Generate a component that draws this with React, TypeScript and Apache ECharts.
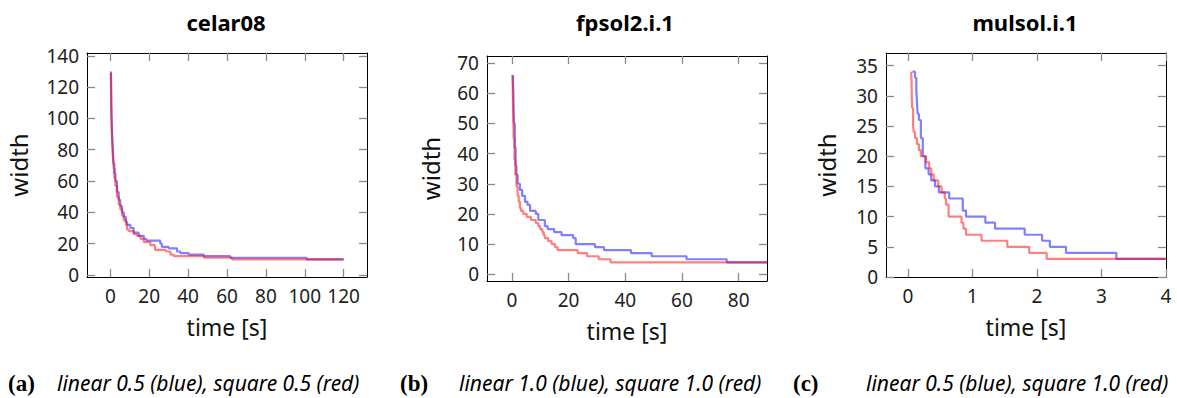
import React, { useEffect, useRef } from "react";
import * as echarts from "echarts";

const panelTitles = ["celar08", "fpsol2.i.1", "mulsol.i.1"];
const captionTags = ["(a)", "(b)", "(c)"];
const captionTexts = [
  "linear 0.5 (blue), square 0.5 (red)",
  "linear 1.0 (blue), square 1.0 (red)",
  "linear 0.5 (blue), square 1.0 (red)",
];
const xAxisName = "time [s]";
const yAxisName = "width";

const xTicks1 = [0, 20, 40, 60, 80, 100, 120];
const yTicks1 = [0, 20, 40, 60, 80, 100, 120, 140];
const xTicks2 = [0, 20, 40, 60, 80];
const yTicks2 = [0, 10, 20, 30, 40, 50, 60, 70];
const xTicks3 = [0, 1, 2, 3, 4];
const yTicks3 = [0, 5, 10, 15, 20, 25, 30, 35];

// [time, width]
const celarBlue = [
  [0.3, 130], [0.4, 120], [0.5, 108], [0.7, 98], [0.9, 90], [1.1, 84], [1.4, 77], [1.7, 71],
  [2.1, 65], [2.6, 60], [3.4, 53], [4.3, 48], [5.1, 44], [6.0, 40], [6.9, 37], [8.0, 34],
  [8.6, 32], [10.3, 30], [12.0, 27], [14.6, 25], [17.2, 23], [18.5, 22], [25.7, 20], [26.5, 18],
  [30.0, 17], [34.3, 15], [36.0, 14], [40.3, 13], [48.0, 12], [61.7, 11], [101.0, 10], [120.0, 10],
];
const celarRed = [
  [0.3, 129], [0.4, 116], [0.5, 104], [0.7, 94], [0.9, 87], [1.1, 81], [1.4, 74], [1.7, 68],
  [2.1, 62], [2.6, 57], [3.4, 50], [4.3, 45], [5.1, 42], [6.0, 38], [6.9, 35], [8.0, 32],
  [8.6, 29], [9.5, 28], [12.0, 26], [13.7, 25], [15.5, 23], [17.2, 21], [20.6, 19], [23.0, 16],
  [28.6, 15], [30.9, 13], [32.6, 12], [48.2, 11], [62.6, 10], [120.0, 10],
];
const fpsolBlue = [
  [0.3, 66], [0.5, 60], [0.7, 50], [1.0, 42], [1.3, 36], [1.6, 33], [2.0, 30], [2.8, 28],
  [3.6, 26], [4.6, 24], [5.5, 23], [6.4, 21], [8.4, 20], [9.3, 18], [11.6, 16], [12.6, 15],
  [14.9, 14], [17.5, 13], [21.6, 12], [22.5, 10], [29.3, 9], [32.5, 8], [42.0, 7], [49.3, 6],
  [61.6, 5], [75.8, 4], [90.0, 4],
];
const fpsolRed = [
  [0.2, 66], [0.4, 55], [0.6, 45], [0.9, 38], [1.2, 33], [1.6, 29], [2.0, 26], [2.4, 24],
  [2.8, 22], [3.2, 21], [4.0, 20], [5.2, 19], [6.7, 18], [8.4, 17], [9.3, 16], [9.9, 15],
  [10.7, 14], [11.2, 13], [11.6, 12], [12.8, 11], [14.0, 10], [15.2, 9], [16.1, 8], [23.2, 7],
  [26.5, 6], [30.6, 5], [34.8, 4], [90.0, 4],
];
const mulsolBlue = [
  [0.07, 34], [0.11, 33], [0.13, 31], [0.14, 29], [0.15, 27], [0.17, 26], [0.2, 23], [0.23, 20],
  [0.27, 18], [0.32, 17], [0.36, 16], [0.42, 15], [0.48, 14], [0.64, 13], [0.85, 11], [0.9, 10],
  [1.2, 9], [1.35, 8], [1.81, 7], [2.08, 6], [2.2, 5], [2.45, 4], [3.23, 3], [4.0, 3],
];
const mulsolRed = [
  [0.05, 34], [0.055, 33], [0.06, 30], [0.065, 28], [0.08, 25], [0.09, 24], [0.11, 23], [0.14, 22],
  [0.17, 21], [0.2, 20], [0.28, 19], [0.33, 18], [0.36, 17], [0.4, 16], [0.47, 15], [0.52, 14],
  [0.57, 13], [0.59, 12], [0.63, 10], [0.83, 9], [0.86, 8], [0.9, 7], [1.14, 6], [1.54, 5],
  [1.88, 4], [2.15, 3], [4.0, 3],
];

const FONT = '"Noto Sans", "Open Sans", sans-serif';

const panels = [
  { grid: { left: 87, top: 53, width: 280, height: 224 }, xMin: -12, xMax: 132, yMin: -1.3, yMax: 141.8, xTicks: xTicks1, yTicks: yTicks1, blue: celarBlue, red: celarRed, cx: 226, tagX: 8, capX: 57, yGap: 57 },
  { grid: { left: 487, top: 56, width: 280, height: 225 }, xMin: -8.8, xMax: 90, yMin: -2.2, yMax: 72.3, xTicks: xTicks2, yTicks: yTicks2, blue: fpsolBlue, red: fpsolRed, cx: 625, tagX: 400, capX: 459, yGap: 45 },
  { grid: { left: 886, top: 53, width: 280, height: 224 }, xMin: -0.34, xMax: 4, yMin: 0, yMax: 37.1, xTicks: xTicks3, yTicks: yTicks3, blue: mulsolBlue, red: mulsolRed, cx: 1025, tagX: 793, capX: 866, yGap: 48 },
];

function buildOption() {
  const grid: any[] = [];
  const xAxis: any[] = [];
  const yAxis: any[] = [];
  const series: any[] = [];
  const graphic: any[] = [];
  const tickStyle = { color: "#8a8a8a", width: 1.3 };
  const lineStyle = { color: "#000", width: 1 };
  panels.forEach((p, i) => {
    grid.push({ ...p.grid, containLabel: false });
    const xBase = {
      gridIndex: i, type: "value", min: p.xMin, max: p.xMax,
      axisLine: { show: true, onZero: false, lineStyle },
      axisTick: { show: true, inside: true, length: 8, customValues: p.xTicks, lineStyle: tickStyle },
      splitLine: { show: false },
    };
    xAxis.push({
      ...xBase, position: "bottom",
      axisLabel: { show: true, customValues: p.xTicks, fontSize: 19, color: "#222", fontFamily: FONT, margin: 9 },
      name: xAxisName, nameLocation: "middle", nameGap: 38,
      nameTextStyle: { fontSize: 23, color: "#111", fontFamily: FONT },
    });
    xAxis.push({ ...xBase, position: "top", axisLabel: { show: false } });
    const yBase = {
      gridIndex: i, type: "value", min: p.yMin, max: p.yMax,
      axisLine: { show: true, onZero: false, lineStyle },
      axisTick: { show: true, inside: true, length: 8, customValues: p.yTicks, lineStyle: tickStyle },
      splitLine: { show: false },
    };
    yAxis.push({
      ...yBase, position: "left",
      axisLabel: { show: true, customValues: p.yTicks, fontSize: 19, color: "#222", fontFamily: FONT, margin: 8 },
      name: yAxisName, nameLocation: "middle", nameGap: p.yGap,
      nameTextStyle: { fontSize: 24, color: "#111", fontFamily: FONT },
    });
    yAxis.push({ ...yBase, position: "right", axisLabel: { show: false } });
    series.push({
      type: "line", xAxisIndex: 2 * i, yAxisIndex: 2 * i, step: "end", showSymbol: false, symbol: "none",
      data: p.blue, lineStyle: { color: "#0000ff", opacity: 0.5, width: 2.2 }, z: 2,
    });
    series.push({
      type: "line", xAxisIndex: 2 * i, yAxisIndex: 2 * i, step: "end", showSymbol: false, symbol: "none",
      data: p.red, lineStyle: { color: "#ff0000", opacity: 0.5, width: 2.2 }, z: 3,
    });
    graphic.push({
      type: "text", x: p.cx, y: 22,
      style: { text: panelTitles[i], font: `bold 22px ${FONT}`, fill: "#000", textAlign: "center", textVerticalAlign: "middle" },
    });
    graphic.push({
      type: "text", x: p.tagX, y: 383,
      style: { text: captionTags[i], font: 'bold 23px "Liberation Serif", serif', fill: "#000", textAlign: "left", textVerticalAlign: "middle" },
    });
    graphic.push({
      type: "text", x: p.capX, y: 383,
      style: { text: captionTexts[i], font: `italic 21px ${FONT}`, fill: "#000", textAlign: "left", textVerticalAlign: "middle" },
    });
  });
  return { animation: false, backgroundColor: "#fff", grid, xAxis, yAxis, series, graphic };
}

export default function App() {
  const ref = useRef<HTMLDivElement>(null);
  useEffect(() => {
    if (!ref.current) return;
    const chart = echarts.init(ref.current, undefined, { renderer: "svg" });
    chart.setOption(buildOption() as any);
    return () => chart.dispose();
  }, []);
  return <div ref={ref} style={{ position: "absolute", left: 0, top: 0, width: 1177, height: 398 }} />;
}
